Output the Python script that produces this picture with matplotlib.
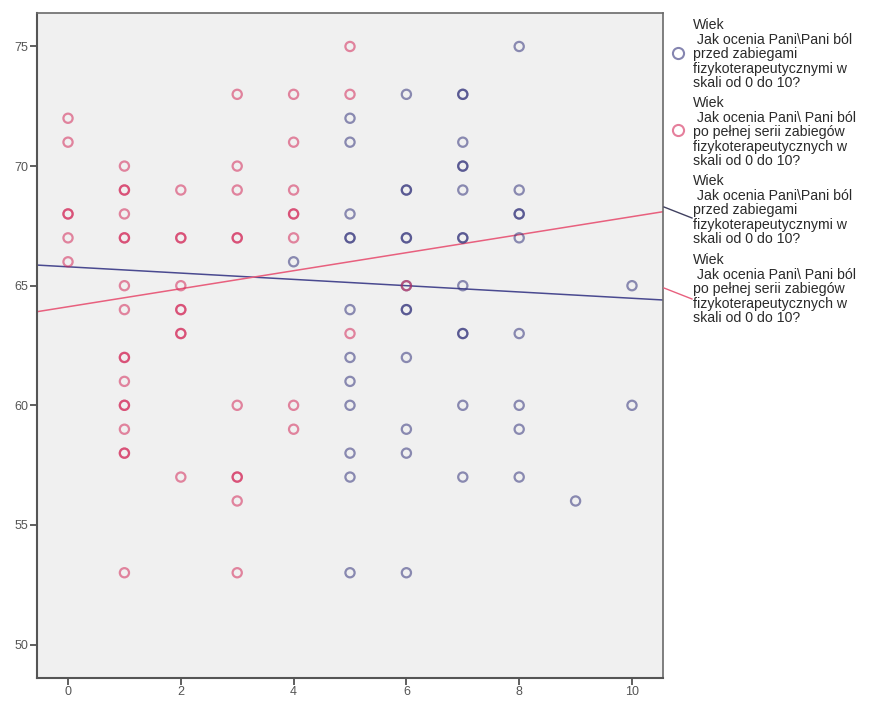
import matplotlib
matplotlib.use("Agg")
import matplotlib.pyplot as plt
from matplotlib.lines import Line2D
import numpy as np

plt.rcParams['font.family'] = ['Liberation Sans', 'DejaVu Sans']

# Pain score before treatment (x) vs age (y) - blue
before_x = [4,
            5, 5, 5, 5, 5, 5, 5, 5, 5, 5, 5, 5,
            6, 6, 6, 6, 6, 6, 6, 6, 6, 6, 6, 6,
            7, 7, 7, 7, 7, 7, 7, 7, 7, 7, 7, 7, 7,
            8, 8, 8, 8, 8, 8, 8, 8, 8,
            9,
            10, 10]
before_y = [66,
            72, 71, 68, 67, 67, 64, 62, 61, 60, 58, 57, 53,
            73, 69, 69, 67, 67, 64, 64, 62, 59, 58, 53, 65,
            73, 73, 71, 70, 70, 69, 67, 67, 65, 63, 63, 60, 57,
            75, 69, 68, 68, 67, 63, 60, 59, 57,
            56,
            65, 60]

# Pain score after full treatment series (x) vs age (y) - red
after_x = [0, 0, 0, 0, 0, 0,
           1, 1, 1, 1, 1, 1, 1, 1, 1, 1, 1, 1, 1, 1, 1, 1, 1,
           2, 2, 2, 2, 2, 2, 2, 2, 2,
           3, 3, 3, 3, 3, 3, 3, 3, 3, 3,
           4, 4, 4, 4, 4, 4, 4, 4,
           5, 5, 5,
           6]
after_y = [72, 71, 68, 68, 67, 66,
           70, 69, 69, 68, 67, 67, 65, 64, 62, 62, 61, 60, 60, 59, 58, 58, 53,
           69, 67, 67, 65, 64, 64, 63, 63, 57,
           73, 70, 69, 67, 67, 60, 57, 57, 56, 53,
           73, 71, 69, 68, 68, 67, 60, 59,
           75, 73, 63,
           65]

# Linear fit lines (intercept, slope)
fit_before = [65.79, -0.1315]
fit_after = [64.12, 0.3766]

x_ticks = [0, 2, 4, 6, 8, 10]
y_ticks = [50, 55, 60, 65, 70, 75]

label_before = ["Wiek", " Jak ocenia Pani\\Pani ból", "przed zabiegami",
                "fizykoterapeutycznymi w", "skali od 0 do 10?"]
label_after = ["Wiek", " Jak ocenia Pani\\ Pani ból", "po pełnej serii zabiegów",
               "fizykoterapeutycznych w", "skali od 0 do 10?"]

BLUE = '#34347c'
RED = '#d42a5a'
BLUE_LINE = '#4a4a90'
RED_LINE = '#e8607e'

W, H = 871, 704
fig = plt.figure(figsize=(W / 100, H / 100), dpi=100)
fig.patch.set_facecolor('white')

def fx(px):
    return px / W

def fy(py):
    return 1 - py / H

ax = fig.add_axes([fx(37), fy(678), fx(663) - fx(37), fy(13) - fy(678)])
ax.set_facecolor('#f0f0f0')

xmin, xmax = -0.55, 10.55
ax.set_xlim(xmin, xmax)
ax.set_ylim(48.6, 76.4)

xs = np.array([xmin, xmax])
ax.plot(xs, fit_before[0] + fit_before[1] * xs, color=BLUE_LINE, lw=1.1, zorder=2)
ax.plot(xs, fit_after[0] + fit_after[1] * xs, color=RED_LINE, lw=1.1, zorder=2)

ax.scatter(before_x, before_y, s=44, facecolors='none', edgecolors=BLUE,
           linewidths=1.6, alpha=0.55, zorder=3)
ax.scatter(after_x, after_y, s=44, facecolors='none', edgecolors=RED,
           linewidths=1.6, alpha=0.55, zorder=3)

ax.set_xticks(x_ticks)
ax.set_yticks(y_ticks)
ax.tick_params(direction='out', length=5, width=1.2, color='#444444',
               labelsize=9, labelcolor='#555555', pad=1)
for sp in ax.spines.values():
    sp.set_color('#6a6a6a')
    sp.set_linewidth(1.2)
ax.spines['left'].set_color('#555555')
ax.spines['bottom'].set_color('#555555')
ax.spines['left'].set_linewidth(1.5)
ax.spines['bottom'].set_linewidth(1.5)

# Legend (drawn manually)
fs = 10.2
txt_color = '#2a2a2a'
starts = [25, 103, 181, 260]
step = 14.6
labels = [label_before, label_after, label_before, label_after]
for start, lab in zip(starts, labels):
    for i, line in enumerate(lab):
        fig.text(fx(693), fy(start + i * step), line, fontsize=fs,
                 color=txt_color, va='center', ha='left')

fig.add_artist(Line2D([fx(678)], [fy(53)], marker='o', markersize=8,
                      markerfacecolor='none', markeredgecolor=BLUE,
                      markeredgewidth=1.5, alpha=0.6, transform=fig.transFigure))
fig.add_artist(Line2D([fx(678)], [fy(130)], marker='o', markersize=8,
                      markerfacecolor='none', markeredgecolor=RED,
                      markeredgewidth=1.5, alpha=0.6, transform=fig.transFigure))
fig.add_artist(Line2D([fx(664), fx(692)], [fy(207), fy(218)], color='#404060',
                      lw=1.0, transform=fig.transFigure))
fig.add_artist(Line2D([fx(664), fx(692)], [fy(288), fy(299)], color=RED_LINE,
                      lw=1.0, transform=fig.transFigure))

fig.savefig('out.png', dpi=100, facecolor='white')
